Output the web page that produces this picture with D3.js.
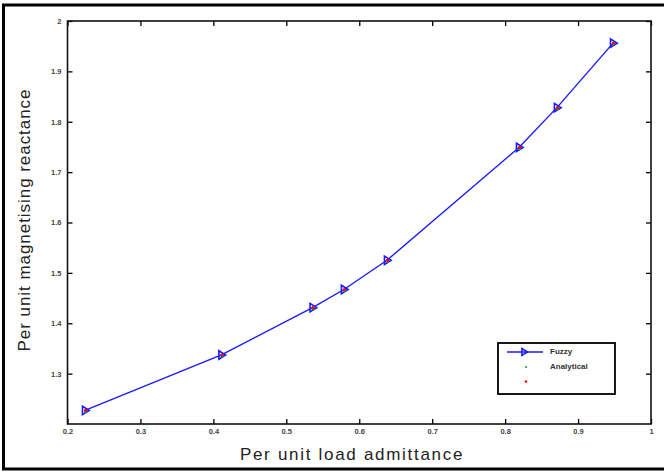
<!DOCTYPE html>
<html>
<head>
<meta charset="utf-8">
<script src="https://cdn.jsdelivr.net/npm/d3@7"></script>
<style>
  body { margin: 0; background: #fff; }
  svg { display: block; font-family: "Liberation Sans", Arial, sans-serif; }
</style>
</head>
<body>
<script>
// data
const admittance = [0.224, 0.411, 0.536, 0.579, 0.638, 0.819, 0.871, 0.948]
const fuzzyReact = [1.227, 1.337, 1.431, 1.467, 1.525, 1.749, 1.828, 1.956]
const analyticReact = [1.226, 1.336, 1.430, 1.466, 1.524, 1.748, 1.827, 1.955]
const xTicks = [0.2, 0.3, 0.4, 0.5, 0.6, 0.7, 0.8, 0.9, 1]
const yTicks = [1.3, 1.4, 1.5, 1.6, 1.7, 1.8, 1.9, 2]
const legendNames = ["Fuzzy", "Analytical", ""]

const W = 664, H = 474
const pLeft = 67.5, pRight = 651, pTop = 21, pBottom = 424

const svg = d3.select("body").append("svg")
    .attr("width", W)
    .attr("height", H)

// outer frame
svg.append("rect")
    .attr("x", 3.5).attr("y", 5)
    .attr("width", W + 10).attr("height", 464)
    .attr("fill", "none")
    .attr("stroke", "#000")
    .attr("stroke-width", 3)

const x = d3.scaleLinear().domain([0.2, 1]).range([pLeft, pRight])
const y = d3.scaleLinear().domain([1.2, 2]).range([pBottom, pTop])

const fmt = d => d === 1 || d === 2 ? String(d) : d3.format(".1f")(d)

// axes, ticks pointing inward on all four sides
function styleAxis(g) {
    g.select(".domain").remove()
    g.selectAll(".tick line").attr("stroke", "#000").attr("stroke-width", 1.3)
    g.selectAll(".tick text")
        .attr("fill", "#444")
        .style("font-size", "7.5px")
        .style("font-weight", "bold")
}

svg.append("g")
    .attr("transform", "translate(0," + pBottom + ")")
    .call(d3.axisBottom(x).tickValues(xTicks).tickSize(-5).tickPadding(5).tickFormat(fmt))
    .call(styleAxis)

svg.append("g")
    .attr("transform", "translate(0," + pTop + ")")
    .call(d3.axisTop(x).tickValues(xTicks).tickSize(-5).tickFormat(""))
    .call(styleAxis)

svg.append("g")
    .attr("transform", "translate(" + pLeft + ",0)")
    .call(d3.axisLeft(y).tickValues(yTicks).tickSize(-5).tickPadding(6).tickFormat(fmt))
    .call(styleAxis)

svg.append("g")
    .attr("transform", "translate(" + pRight + ",0)")
    .call(d3.axisRight(y).tickValues(yTicks).tickSize(-5).tickFormat(""))
    .call(styleAxis)

// plot box
svg.append("rect")
    .attr("x", pLeft).attr("y", pTop)
    .attr("width", pRight - pLeft).attr("height", pBottom - pTop)
    .attr("fill", "none")
    .attr("stroke", "#111")
    .attr("stroke-width", 1.6)

// fuzzy line
const pts = admittance.map((a, i) => [a, fuzzyReact[i]])
const line = d3.line().x(d => x(d[0])).y(d => y(d[1]))

svg.append("path")
    .datum(pts)
    .attr("d", line)
    .attr("fill", "none")
    .attr("stroke", "#1a1aff")
    .attr("stroke-width", 1.4)

// right pointing triangle marker
const tri = (cx, cy, s) => "M" + (cx - s * 0.6) + "," + (cy - s) + "L" + (cx + s) + "," + cy + "L" + (cx - s * 0.6) + "," + (cy + s) + "Z"

svg.selectAll(".fz")
    .data(pts)
    .enter()
    .append("path")
    .attr("class", "fz")
    .attr("d", d => tri(x(d[0]), y(d[1]), 4.2))
    .attr("fill", "none")
    .attr("stroke", "#1a1aff")
    .attr("stroke-width", 1.6)

// analytical points
svg.selectAll(".an-g")
    .data(admittance)
    .enter()
    .append("circle")
    .attr("cx", (d, i) => x(d) + 0.5)
    .attr("cy", (d, i) => y(analyticReact[i]) + 1)
    .attr("r", 1.2)
    .attr("fill", "#0a0")

svg.selectAll(".an-r")
    .data(admittance)
    .enter()
    .append("circle")
    .attr("cx", (d, i) => x(d) + 0.5)
    .attr("cy", (d, i) => y(analyticReact[i]) - 0.5)
    .attr("r", 1.6)
    .attr("fill", "#f00")

// legend
const lg = svg.append("g").attr("transform", "translate(498,343)")
lg.append("rect")
    .attr("width", 117).attr("height", 51)
    .attr("fill", "#fff")
    .attr("stroke", "#000")
    .attr("stroke-width", 1.8)
lg.append("line")
    .attr("x1", 9).attr("x2", 45).attr("y1", 9).attr("y2", 9)
    .attr("stroke", "#1a1aff").attr("stroke-width", 1.4)
lg.append("path")
    .attr("d", tri(26, 9, 3.5))
    .attr("fill", "none").attr("stroke", "#1a1aff").attr("stroke-width", 1.5)
lg.append("circle").attr("cx", 28).attr("cy", 24).attr("r", 1).attr("fill", "#0a0")
lg.append("circle").attr("cx", 28).attr("cy", 38.5).attr("r", 1.3).attr("fill", "#f00")
lg.selectAll("text.lab")
    .data(legendNames)
    .enter()
    .append("text")
    .attr("class", "lab")
    .attr("x", 52)
    .attr("y", (d, i) => 8 + i * 15)
    .attr("dy", "0.35em")
    .attr("fill", "#333")
    .style("font-size", "8px")
    .style("font-weight", "bold")
    .text(d => d)

// axis titles
svg.append("text")
    .attr("x", 352).attr("y", 460)
    .attr("text-anchor", "middle")
    .attr("fill", "#222")
    .style("font-size", "17px")
    .style("letter-spacing", "1.7px")
    .text("Per unit load admittance")

svg.append("text")
    .attr("transform", "translate(30,220) rotate(-90)")
    .attr("text-anchor", "middle")
    .attr("fill", "#222")
    .style("font-size", "17px")
    .style("letter-spacing", "0.95px")
    .text("Per unit magnetising reactance")
</script>
</body>
</html>
